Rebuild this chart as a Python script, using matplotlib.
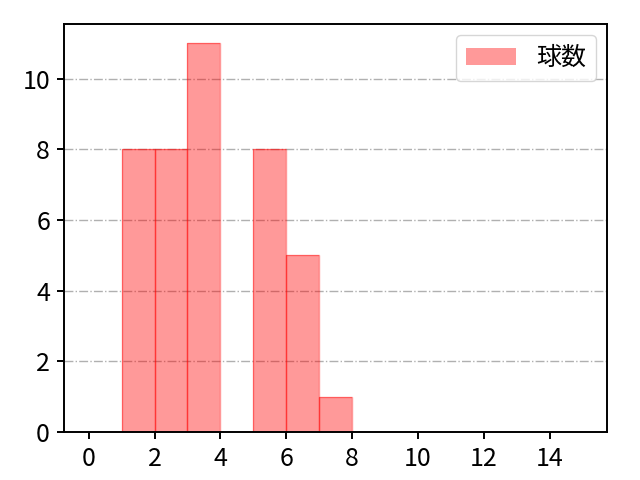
import matplotlib
matplotlib.use("Agg")
import matplotlib.pyplot as plt

plt.rcParams['font.family'] = ['Noto Sans CJK JP', 'DejaVu Sans']

# ビンの左端と度数
bin_left = [0, 1, 2, 3, 4, 5, 6, 7, 8, 9, 10, 11, 12, 13, 14]
counts = [0, 8, 8, 11, 0, 8, 5, 1, 0, 0, 0, 0, 0, 0, 0]
label = '球数'


def plot_data():
    fig, ax = plt.subplots(figsize=(6.4, 4.8), dpi=100)
    fig.subplots_adjust(left=0.1, right=0.949, top=0.95, bottom=0.1)
    ax.bar(bin_left, counts, width=1.0, align='edge',
           color='red', alpha=0.4, label=label)
    ax.bar(bin_left, counts, width=1.0, align='edge',
           facecolor='none', edgecolor='red', alpha=0.4, linewidth=1)
    ax.set_xlim(-0.75, 15.75)
    ax.set_ylim(0, 11.55)
    ax.set_xticks(range(0, 16, 2))
    ax.set_yticks(range(0, 12, 2))
    ax.tick_params(labelsize=18, width=1.4, length=5, pad=5)
    for sp in ax.spines.values():
        sp.set_linewidth(1.4)
    ax.grid(axis='y', linestyle='-.', color='#b0b0b0', linewidth=1.0)
    ax.set_axisbelow(True)
    ax.legend(loc='upper right', fontsize=18, borderaxespad=0.45)
    fig.savefig('out.png')


if __name__ == "__main__":
    plot_data()
